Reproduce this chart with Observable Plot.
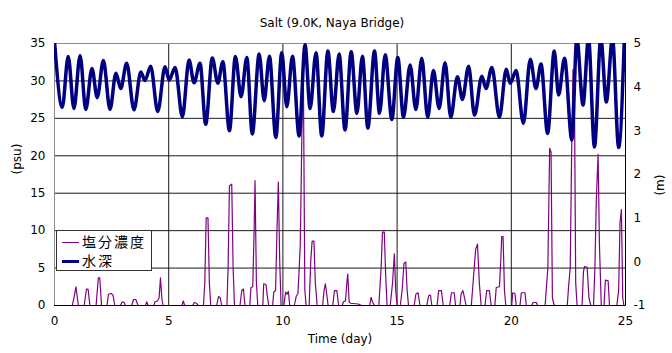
<!DOCTYPE html>
<html>
<head>
<meta charset="utf-8">
<script src="https://cdn.jsdelivr.net/npm/d3@7"></script>
<script src="https://cdn.jsdelivr.net/npm/@observablehq/plot@0.6"></script>
<style>
  html, body { margin: 0; padding: 0; background: #fff; }
  #wrap { position: relative; width: 672px; height: 353px; }
  #legend { position: absolute; left: 56px; top: 230px; width: 94px; height: 39px;
    border: 1px solid #333; background: #fff; font-family: "Noto Sans CJK JP", sans-serif; font-size: 14px; color: #000; }
  .row { position: absolute; left: 0; height: 19px; width: 94px; }
  .sw { position: absolute; left: 5px; width: 17px; }
  .lab { position: absolute; left: 25px; top: 0px; height: 19px; line-height: 19px; letter-spacing: 2px; white-space: nowrap; overflow: hidden; }
</style>
</head>
<body>
<div id="wrap">
  <div id="chart"></div>
  <div id="legend">
    <div class="row" style="top:1px"><div class="sw" style="top:10px;height:1px;background:#800080"></div><div class="lab" id="lab0"></div></div>
    <div class="row" style="top:20px"><div class="sw" style="top:9px;height:3px;background:#000080"></div><div class="lab" id="lab1"></div></div>
  </div>
</div>
<script>
const title = "Salt (9.0K, Naya Bridge)";
const xLabel = "Time (day)";
const yLeftLabel = "(psu)";
const yRightLabel = "(m)";
const seriesNames = ["塩分濃度", "水深"];
const xTicks = [0, 5, 10, 15, 20, 25];
const psuTicks = [0, 5, 10, 15, 20, 25, 30, 35];
const mTicks = [-1, 0, 1, 2, 3, 4, 5];
const psuMax = 35, mMin = -1, mMax = 5;

// 塩分濃度 (psu)
const saltDays = [0,0.78,0.88,0.94,1.0,1.05,1.3,1.4,1.47,1.55,1.82,1.92,1.98,2.06,2.3,2.36,2.48,2.56,2.64,2.88,2.97,3.05,3.1,3.38,3.46,3.56,3.66,3.98,4.04,4.1,4.35,4.4,4.5,4.58,4.64,4.7,4.75,5.58,5.64,5.7,6.05,6.12,6.22,6.3,6.52,6.58,6.64,6.72,6.78,6.84,7.1,7.18,7.26,7.32,7.55,7.6,7.66,7.76,7.82,7.88,8.12,8.2,8.27,8.34,8.55,8.6,8.68,8.74,8.78,8.84,8.9,9.12,9.16,9.26,9.32,9.38,9.55,9.6,9.68,9.74,9.8,9.86,9.92,10.04,10.12,10.18,10.24,10.3,10.5,10.58,10.66,10.76,10.86,10.9,10.96,11.02,11.15,11.22,11.28,11.36,11.42,11.5,11.74,11.8,11.86,11.92,11.98,12.18,12.26,12.36,12.44,12.6,12.65,12.74,12.8,12.84,12.9,12.96,13.3,13.45,13.8,13.86,13.92,14.0,14.2,14.3,14.36,14.44,14.5,14.56,14.7,14.8,14.88,14.94,15.0,15.14,15.22,15.3,15.38,15.44,15.5,15.75,15.82,15.92,16.0,16.3,16.38,16.46,16.52,16.75,16.82,16.94,17.02,17.3,17.38,17.5,17.56,17.75,17.8,17.88,17.94,18.02,18.25,18.35,18.44,18.52,18.6,18.68,18.85,18.92,19.04,19.12,19.28,19.34,19.48,19.54,19.58,19.64,19.7,19.76,20.02,20.06,20.16,20.22,20.38,20.44,20.6,20.66,20.9,20.95,21.1,21.15,21.48,21.6,21.68,21.74,21.8,21.88,22.45,22.52,22.58,22.64,22.7,22.76,22.82,22.88,23.1,23.16,23.2,23.32,23.4,23.48,23.6,23.66,23.72,23.8,23.86,23.94,24.06,24.12,24.24,24.3,24.62,24.7,24.76,24.82,24.88,24.93,25.0];
const saltValues = [0,0,1.5,2.5,1.0,0,0,2.2,2.2,0,0,3.7,3.7,0,0,1.5,1.6,1.4,0,0,0.5,0.4,0,0,0.8,0.8,0,0,0.5,0,0,0.5,0.6,1.0,3.7,1.0,0,0,0.6,0,0,0.4,0.3,0,0,3,11.7,11.7,3,0,0,1.2,1.0,0,0,5,16.0,16.2,5,0,0,2.0,2.2,0,0,2.4,2.5,10,16.7,3,0,0,2.9,2.8,1.2,0,0,1.8,2.0,10,16.5,6,0,0,1.8,1.5,1.9,0,0,1.2,1.6,8,29,29,2,0,0,6,8.6,8.6,3,0,0,2.0,2.9,1.5,0,0,2.0,2.0,0,0,0.5,0.6,3.0,4.2,0.5,0.3,0.2,0,0,1.1,0.5,0,0,5,9.8,9.8,4,0,0,3,6.9,2,0,0,2,5.6,5.8,2,0,0,1.5,1.7,0,0,1.3,1.4,0,0,2.0,2.0,0,0,1.7,1.7,0,0,1.5,2.0,1.2,0,0,4,7.5,8.2,3,0,0,2.0,2.0,0,0,2.4,2.5,6,9.2,9.2,2,0,0,1.7,1.6,0,0,1.7,1.7,0,0,0.4,0.4,0,0,5,21.0,20.5,1,0,0,3,5,20,31.5,30,3,0,0,4.5,5.2,5.1,1,0,0,5,14,20.2,8,0,0,3.4,3.3,0,0,2,11,12.8,1,0,0];

// 水深 (m) : successive high and low waters
const depthDays = [0,0.34,0.60,0.85,1.12,1.37,1.64,1.87,2.14,2.43,2.69,2.90,3.16,3.48,3.78,3.96,4.21,4.52,4.84,5.02,5.28,5.60,5.89,6.11,6.37,6.62,6.91,7.15,7.37,7.66,7.92,8.17,8.42,8.66,8.96,9.18,9.41,9.69,9.95,10.17,10.42,10.71,10.97,11.19,11.45,11.70,11.97,12.21,12.46,12.72,12.99,13.24,13.48,13.72,14.01,14.23,14.48,14.77,15.03,15.28,15.57,15.82,16.08,16.34,16.59,16.84,17.10,17.35,17.64,17.86,18.13,18.39,18.71,18.89,19.15,19.48,19.78,19.95,20.21,20.53,20.83,21.08,21.30,21.59,21.88,22.07,22.33,22.65,22.87,23.14,23.38,23.64,23.92,24.16,24.43,24.70,24.95];
const depthValues = [5.05,3.54,4.70,3.51,4.72,3.49,4.43,3.76,4.61,3.49,4.32,3.97,4.55,3.48,4.35,4.15,4.48,3.44,4.47,4.16,4.45,3.32,4.62,4.10,4.55,3.15,4.67,4.09,4.58,3.00,4.70,3.78,4.68,2.93,4.76,3.69,4.71,2.85,4.79,3.55,4.71,2.88,4.97,3.51,4.79,2.88,4.83,3.44,4.76,3.02,4.81,3.40,4.71,3.06,4.83,3.40,4.74,3.26,4.68,3.31,4.51,3.49,4.66,3.31,4.38,3.51,4.56,3.31,4.24,3.72,4.48,3.36,4.25,3.97,4.45,3.31,4.41,4.09,4.38,3.17,4.64,3.97,4.53,2.94,4.83,3.82,4.66,2.79,5.12,3.59,5.12,2.63,5.12,3.66,5.12,2.62,5.12];

document.getElementById("lab0").textContent = seriesNames[0];
document.getElementById("lab1").textContent = seriesNames[1];

const salt = saltDays.map((d, i) => ({day: d, v: saltValues[i]}));
const depth = depthDays.map((d, i) => ({day: d, m: depthValues[i]}));
const m2psu = m => (m - mMin) * psuMax / (mMax - mMin);

const font = "DejaVu Sans";
const chart = Plot.plot({
  width: 672,
  height: 353,
  marginLeft: 54,
  marginRight: 47,
  marginTop: 43,
  marginBottom: 48,
  style: {fontFamily: font, fontSize: "12px", color: "#000", background: "#fff"},
  x: {domain: [0, 25]},
  y: {domain: [0, psuMax]},
  marks: [
    Plot.gridY(psuTicks.filter(t => t > 0 && t < psuMax), {stroke: "#1a1a1a", strokeOpacity: 1}),
    Plot.gridX(xTicks.filter(t => t > 0 && t < 25), {stroke: "#1a1a1a", strokeOpacity: 1}),
    Plot.ruleY([psuMax], {stroke: "#8c8c8c"}),
    Plot.ruleX([xTicks[0]], {stroke: "#8c8c8c"}),
    Plot.line(salt, {x: "day", y: "v", stroke: "#800080", strokeWidth: 1.2}),
    Plot.line(depth, {x: "day", y: d => m2psu(d.m), stroke: "#000080", strokeWidth: 3.5, curve: "monotone-x", clip: true}),
    Plot.ruleY([0], {stroke: "#000"}),
    Plot.ruleX([xTicks[xTicks.length - 1]], {stroke: "#000"}),
    Plot.axisX({ticks: xTicks, tickSize: 0, tickPadding: 11, label: null, tickFormat: d => d}),
    Plot.axisY({ticks: psuTicks, tickSize: 0, tickPadding: 9, label: null, tickFormat: d => d}),
    Plot.axisY({anchor: "right", ticks: mTicks.map(m2psu), tickSize: 0, tickPadding: 8, label: null,
      tickFormat: v => String(Math.round(v * (mMax - mMin) / psuMax + mMin))}),
    Plot.text([title], {frameAnchor: "top", text: d => d, dy: -25, dx: -8, fontSize: 12}),
    Plot.text([xLabel], {frameAnchor: "bottom", text: d => d, dy: 37, fontSize: 12}),
    Plot.text([yLeftLabel], {frameAnchor: "left", text: d => d, dx: -37, rotate: -90, fontSize: 12}),
    Plot.text([yRightLabel], {frameAnchor: "right", text: d => d, dx: 35, rotate: -90, fontSize: 12})
  ]
});
document.getElementById("chart").appendChild(chart);
</script>
</body>
</html>
